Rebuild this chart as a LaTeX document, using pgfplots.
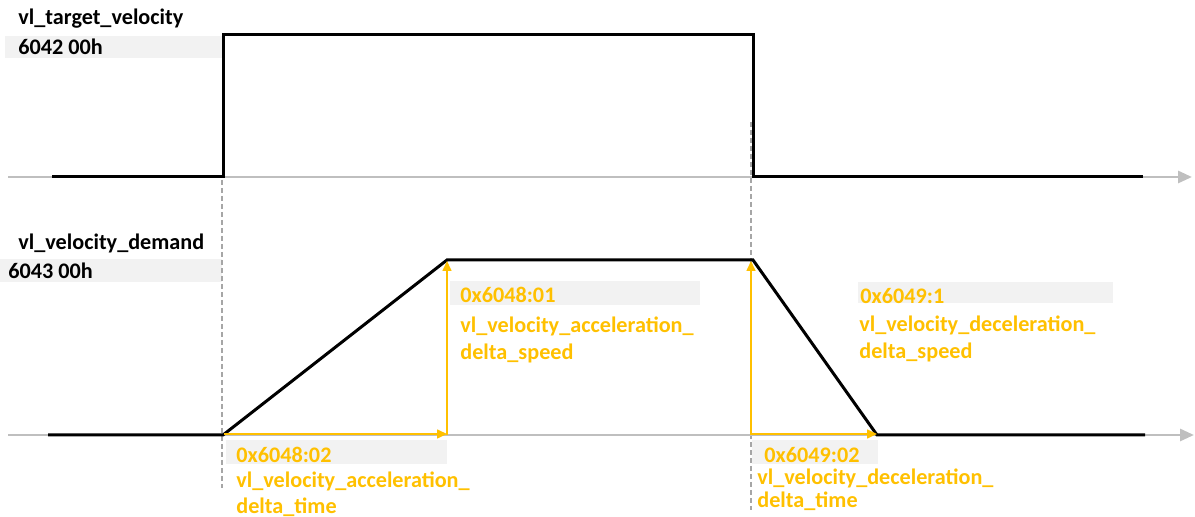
\documentclass[border=0pt]{standalone}
\usepackage{pgfplots}
\pgfplotsset{compat=1.18}
\usetikzlibrary{arrows.meta}
\usepackage{fontspec}
\setmainfont{Carlito}[BoldFont={Carlito Bold}]
\definecolor{axgray}{HTML}{BFBFBF}
\definecolor{boxgray}{HTML}{F2F2F2}
\definecolor{dashgray}{HTML}{A6A6A6}
\definecolor{amber}{HTML}{FFC000}
\tikzset{lab/.style={anchor=west, inner sep=0pt, font=\bfseries\fontsize{11.1}{13.5}\selectfont}}

\begin{document}
\begin{tikzpicture}
\begin{axis}[
    scale only axis,
    width=597.5pt, height=258.5pt,
    xmin=0, xmax=1195, ymin=0, ymax=517,
    y dir=reverse,
    axis lines=none,
    clip=false,
]
% grey label boxes
\addplot[fill=boxgray, draw=none] coordinates {(5,36) (222,36) (222,58) (5,58)} --cycle;
\addplot[fill=boxgray, draw=none] coordinates {(0,259) (222,259) (222,282) (0,282)} --cycle;
\addplot[fill=boxgray, draw=none] coordinates {(450,281) (700,281) (700,305) (450,305)} --cycle;
\addplot[fill=boxgray, draw=none] coordinates {(858,282) (1113,282) (1113,303) (858,303)} --cycle;
\addplot[fill=boxgray, draw=none] coordinates {(226,440) (447,440) (447,464) (226,464)} --cycle;
\addplot[fill=boxgray, draw=none] coordinates {(752,440) (878,440) (878,464) (752,464)} --cycle;

% dashed guides
\addplot[dashgray, line width=0.6pt, dash pattern=on 2.5pt off 1.5pt] coordinates {(222,180) (222,488)};
\addplot[dashgray, line width=0.6pt, dash pattern=on 2.5pt off 1.5pt] coordinates {(751,122) (751,510)};

% time axes
\addplot[axgray, line width=1.4pt, -{Triangle[length=7pt,width=6pt]}] coordinates {(8,177) (1192,177)};
\addplot[axgray, line width=1.4pt, -{Triangle[length=7pt,width=6pt]}] coordinates {(8,435) (1194,435)};

% signals
\addplot[black, line width=1.5pt] coordinates {(52,177) (223,177) (223,35) (753,35) (753,177) (1143,177)};
\addplot[black, line width=1.5pt] coordinates {(48,435) (223,435) (447,260) (753,260) (877,435) (1145,435)};

% amber arrows
\addplot[amber, line width=0.8pt, -{Triangle[length=5pt,width=4.5pt]}] coordinates {(447,435) (447,261)};
\addplot[amber, line width=0.8pt, -{Triangle[length=5pt,width=4.5pt]}] coordinates {(224,434) (447,434)};
\addplot[amber, line width=0.8pt, -{Triangle[length=5pt,width=4.5pt]}] coordinates {(751,435) (751,261)};
\addplot[amber, line width=0.8pt, -{Triangle[length=5pt,width=4.5pt]}] coordinates {(751,434) (877,434)};

% black labels
\node[lab] at (axis cs:18,19) {vl\_target\_velocity};
\node[lab] at (axis cs:18,47) {6042 00h};
\node[lab] at (axis cs:18,243) {vl\_velocity\_demand};
\node[lab] at (axis cs:8,271) {6043 00h};

% amber labels
\node[lab, text=amber] at (axis cs:460,295) {0x6048:01};
\node[lab, text=amber] at (axis cs:460,326) {vl\_velocity\_acceleration\_};
\node[lab, text=amber] at (axis cs:460,353) {delta\_speed};

\node[lab, text=amber] at (axis cs:860,296) {0x6049:1};
\node[lab, text=amber] at (axis cs:859,325) {vl\_velocity\_deceleration\_};
\node[lab, text=amber] at (axis cs:859,352) {delta\_speed};

\node[lab, text=amber] at (axis cs:236,455) {0x6048:02};
\node[lab, text=amber] at (axis cs:236,481) {vl\_velocity\_acceleration\_};
\node[lab, text=amber] at (axis cs:236,507) {delta\_time};

\node[lab, text=amber] at (axis cs:764,455) {0x6049:02};
\node[lab, text=amber] at (axis cs:757,478) {vl\_velocity\_deceleration\_};
\node[lab, text=amber] at (axis cs:757,501) {delta\_time};
\end{axis}
\pgfresetboundingbox
\path (current axis.south west) rectangle (current axis.north east);
\end{tikzpicture}
\end{document}
